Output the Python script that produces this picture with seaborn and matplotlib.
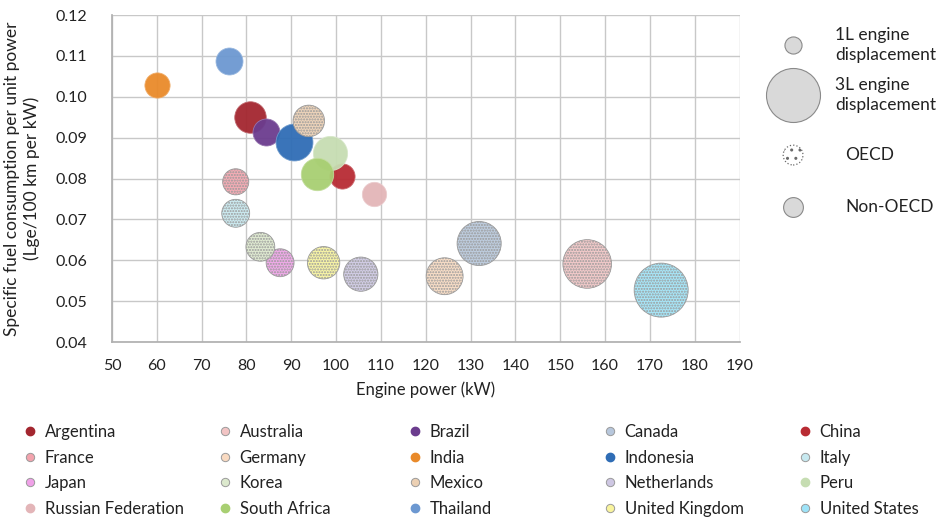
import matplotlib
matplotlib.use("Agg")
import matplotlib.pyplot as plt
from matplotlib.lines import Line2D
import numpy as np
import pandas as pd
import seaborn as sns
from matplotlib.colors import to_rgb

# ---- data -----------------------------------------------------------------
countries = ["Argentina", "Australia", "Brazil", "Canada", "China",
             "France", "Germany", "India", "Indonesia", "Italy",
             "Japan", "Korea", "Mexico", "Netherlands", "Peru",
             "Russian Federation", "South Africa", "Thailand",
             "United Kingdom", "United States"]
engine_power_kw = [80.8, 156.0, 84.4, 131.9, 101.2,
                   77.6, 124.2, 60.1, 90.5, 77.6,
                   87.5, 83.1, 93.9, 105.5, 98.6,
                   108.4, 95.8, 76.0,
                   97.2, 172.5]
fuel_per_kw = [0.0951, 0.0591, 0.0914, 0.0641, 0.0807,
               0.0792, 0.0561, 0.1029, 0.0890, 0.0715,
               0.0594, 0.0633, 0.0941, 0.0566, 0.0862,
               0.0762, 0.0811, 0.1087,
               0.0594, 0.0527]
displacement_l = [1.75, 2.7, 1.5, 2.45, 1.4,
                  1.45, 2.05, 1.4, 2.05, 1.55,
                  1.55, 1.6, 1.75, 1.9, 1.9,
                  1.35, 1.8, 1.5,
                  1.8, 3.0]
oecd = [False, True, False, True, False,
        True, True, False, False, True,
        True, True, True, True, False,
        False, False, False,
        True, True]
colors = ["#A3262F", "#E58A8A", "#6B3C8E", "#6E8FB8", "#B82B33",
          "#E8475A", "#F2B583", "#E98A2A", "#2F6DB5", "#8ED3E0",
          "#E043D0", "#B9D39A", "#D9A066", "#9C8FC8", "#C6DDB2",
          "#E3B5B8", "#A8CF72", "#6C98D1",
          "#F2EA3A", "#3CC8F0"]

df = pd.DataFrame({"country": countries, "power": engine_power_kw,
                   "sfc": fuel_per_kw, "disp": displacement_l,
                   "oecd": oecd, "color": colors})

# ---- figure ---------------------------------------------------------------
sns.set_theme(style="white")
plt.rcParams["font.family"] = ["Lato", "DejaVu Sans"]
fig = plt.figure(figsize=(9.41, 5.19), dpi=100)
ax = fig.add_axes([0.119, 0.341, 0.667, 0.630])

PX_PER_LITRE = 18 * 0.72   # bubble diameter in points per litre
TEXT = "#222222"


def bubble_area(litres):
    return (PX_PER_LITRE * litres) ** 2


def tint(c, amount=0.55):
    r, g, b = to_rgb(c)
    return (r + (1 - r) * amount, g + (1 - g) * amount, b + (1 - b) * amount)


for i, row in df.iterrows():
    sub = df.iloc[[i]]
    if row["oecd"]:
        with plt.rc_context({"hatch.color": row["color"], "hatch.linewidth": 1.0}):
            sns.scatterplot(data=sub, x="power", y="sfc", ax=ax,
                            s=bubble_area(row["disp"]), color=tint(row["color"]),
                            edgecolor="#9a9a9a", linewidth=0.6, hatch="......",
                            legend=False, zorder=3 + i * 0.01)
    else:
        sns.scatterplot(data=sub, x="power", y="sfc", ax=ax,
                        s=bubble_area(row["disp"]), color=row["color"],
                        edgecolor=tint(row["color"], 0.3), linewidth=0.6,
                        alpha=0.95, legend=False, zorder=3 + i * 0.01)

ax.set_xlim(50, 190)
ax.set_ylim(0.04, 0.12)
ax.set_xticks(np.arange(50, 191, 10))
yt = np.arange(0.04, 0.1201, 0.01)
ax.set_yticks(yt)
ax.set_yticklabels([f"{v:.2f}" for v in yt])
ax.grid(True, color="#c8c8c8", linewidth=1.0)
ax.set_axisbelow(True)
for side in ["top", "right"]:
    ax.spines[side].set_visible(False)
for side in ["left", "bottom"]:
    ax.spines[side].set_color("#b0b0b0")
ax.tick_params(axis="both", labelsize=11.5, colors=TEXT, length=4,
               color="#b0b0b0", direction="out")
ax.tick_params(axis="y", pad=14)
ax.tick_params(axis="x", pad=8)
ax.set_xlabel("Engine power (kW)", fontsize=12, color=TEXT, labelpad=6)
ax.set_ylabel("Specific fuel consumption per unit power\n(Lge/100 km per kW)",
              fontsize=12.5, color=TEXT, labelpad=11, linespacing=1.25)

# ---- key on the right: bubble size and OECD membership --------------------
key = fig.add_axes([0.80, 0.55, 0.20, 0.45])
key.set_xlim(0, 1)
key.set_ylim(0, 1)
key.axis("off")
key_y = [0.807, 0.593, 0.336, 0.114]
kx = 0.214
key.scatter([kx], [key_y[0]], s=bubble_area(0.95), color="#d9d9d9",
            edgecolor="#8a8a8a", linewidth=0.8)
key.scatter([kx], [key_y[1]], s=bubble_area(3.0), color="#d9d9d9",
            edgecolor="#8a8a8a", linewidth=0.8)
with plt.rc_context({"hatch.color": "#6a6a6a", "hatch.linewidth": 1.0}):
    key.scatter([kx], [key_y[2]], s=bubble_area(1.1), color="white",
                edgecolor="#6a6a6a", linewidth=0.9, hatch="..", linestyle=":")
key.scatter([kx], [key_y[3]], s=bubble_area(1.1), color="#d9d9d9",
            edgecolor="#8a8a8a", linewidth=0.8)
key.text(0.437, key_y[0], "1L engine\ndisplacement", fontsize=12.5,
         va="center", ha="left", color=TEXT, linespacing=1.3)
key.text(0.437, key_y[1], "3L engine\ndisplacement", fontsize=12.5,
         va="center", ha="left", color=TEXT, linespacing=1.3)
key.text(0.49, key_y[2], "OECD", fontsize=12.5, va="center", ha="left",
         color=TEXT)
key.text(0.49, key_y[3], "Non-OECD", fontsize=12.5, va="center", ha="left",
         color=TEXT)

# ---- country legend below the chart (row-major, five columns) -------------
handles = []
for _, row in df.iterrows():
    if row["oecd"]:
        h = Line2D([], [], linestyle="none", marker="o", markersize=6,
                   markerfacecolor=tint(row["color"], 0.5),
                   markeredgecolor="#9a9a9a", markeredgewidth=0.7)
    else:
        h = Line2D([], [], linestyle="none", marker="o", markersize=6,
                   markerfacecolor=row["color"], markeredgecolor=row["color"])
    handles.append(h)

col_x = [0.0244, 0.2317, 0.4336, 0.6408, 0.848]
for c in range(5):
    idx = [r * 5 + c for r in range(4)]
    fig.legend([handles[k] for k in idx], [countries[k] for k in idx],
               loc="upper left", bbox_to_anchor=(col_x[c], 0.183),
               frameon=False, fontsize=12, handlelength=0.8,
               handletextpad=0.5, labelspacing=0.575, borderpad=0,
               borderaxespad=0, labelcolor=TEXT)

fig.savefig("out.png", dpi=100)
